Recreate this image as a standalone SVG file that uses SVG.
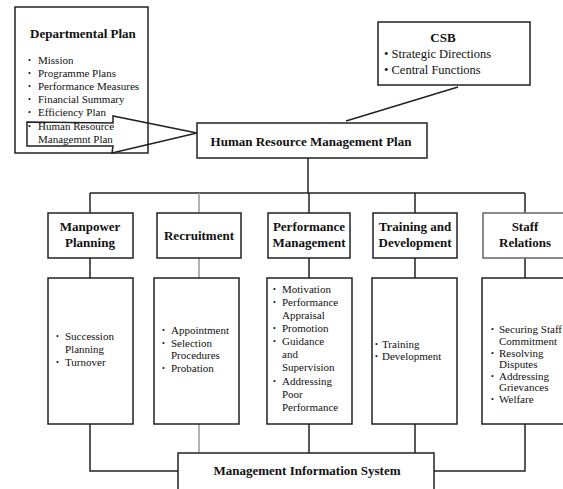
<svg xmlns="http://www.w3.org/2000/svg" width="563" height="489" viewBox="0 0 563 489">
<style>
.box{fill:#fff;stroke:#222;stroke-width:1.5}
.gbox{fill:#fff;stroke:#666;stroke-width:1.5}
.ln{fill:none;stroke:#222;stroke-width:1.5}
.gln{fill:none;stroke:#999;stroke-width:1.5}
text{font-family:"Liberation Serif","Times New Roman",serif;fill:#111}
.t{font-size:13px;font-weight:bold}
.tc{font-size:13px;font-weight:bold;text-anchor:middle}
.b{font-size:11px}
.c{font-size:12.5px}
.bl{font-size:8px}
</style>
<rect width="563" height="489" fill="#fff"/>
<g id="connectors">
<line class="ln" x1="458" y1="87" x2="346" y2="121"/>
<line class="ln" x1="308" y1="158" x2="308" y2="193"/>
<line class="ln" x1="90" y1="193" x2="525" y2="193"/>
<line class="ln" x1="90" y1="193" x2="90" y2="213"/>
<line class="gln" x1="199" y1="193" x2="199" y2="213"/>
<line class="ln" x1="309" y1="193" x2="309" y2="213"/>
<line class="ln" x1="415" y1="193" x2="415" y2="213"/>
<line class="ln" x1="525" y1="193" x2="525" y2="213"/>
<line class="ln" x1="90" y1="258" x2="90" y2="278"/>
<line class="gln" x1="199" y1="258" x2="199" y2="278"/>
<line class="ln" x1="309" y1="258" x2="309" y2="278"/>
<line class="ln" x1="415" y1="258" x2="415" y2="278"/>
<line class="ln" x1="525" y1="258" x2="525" y2="278"/>
<polyline class="ln" points="90,424 90,471 178,471"/>
<line class="gln" x1="199" y1="424" x2="199" y2="453"/>
<line class="ln" x1="309" y1="424" x2="309" y2="453"/>
<line class="ln" x1="415" y1="424" x2="415" y2="453"/>
<polyline class="ln" points="525,424 525,471 434,471"/>
</g>
<g id="departmental-plan">
<rect class="box" x="15" y="7" width="133" height="146"/>
<text class="t" x="30" y="38">Departmental Plan</text>
<g class="bl">
<text x="28" y="63">•</text>
<text x="28" y="76">•</text>
<text x="28" y="89">•</text>
<text x="28" y="102">•</text>
<text x="28" y="115">•</text>
<text x="28" y="129">•</text>
</g>
<g class="b">
<text x="38" y="64">Mission</text>
<text x="38" y="77">Programme Plans</text>
<text x="38" y="90">Performance Measures</text>
<text x="38" y="103">Financial Summary</text>
<text x="38" y="116">Efficiency Plan</text>
<text x="38" y="130">Human Resource</text>
<text x="38" y="143">Managemnt Plan</text>
</g>
</g>
<g id="arrow">
<polygon class="ln" points="27,122 113,123 113,116 197,133 112,153 113,146 27,146"/>
</g>
<g id="csb">
<rect class="box" x="378" y="22" width="152" height="63"/>
<text class="tc" x="443" y="42">CSB</text>
<text class="c" x="384" y="58">• Strategic Directions</text>
<text class="c" x="384" y="74">• Central Functions</text>
</g>
<g id="hrmp">
<rect class="box" x="197" y="123" width="230" height="35"/>
<text class="tc" x="311" y="146">Human Resource Management Plan</text>
</g>
<g id="manpower">
<rect class="box" x="48" y="213" width="85" height="45"/>
<text class="tc" x="90" y="231">Manpower</text>
<text class="tc" x="90" y="247">Planning</text>
</g>
<g id="recruitment">
<rect class="box" x="157" y="213" width="84" height="45"/>
<text class="tc" x="199" y="240">Recruitment</text>
</g>
<g id="performance">
<rect class="box" x="268" y="213" width="82" height="45"/>
<text class="tc" x="309" y="231">Performance</text>
<text class="tc" x="309" y="247">Management</text>
</g>
<g id="training">
<rect class="box" x="373" y="213" width="84" height="45"/>
<text class="tc" x="415" y="231">Training and</text>
<text class="tc" x="415" y="247">Development</text>
</g>
<g id="staff">
<rect class="gbox" x="483" y="213" width="84" height="45"/>
<text class="tc" x="525" y="231">Staff</text>
<text class="tc" x="525" y="247">Relations</text>
</g>
<g id="manpower-detail">
<rect class="box" x="48" y="278" width="85" height="146"/>
<g class="bl">
<text x="56" y="339">•</text>
<text x="56" y="365">•</text>
</g>
<g class="b">
<text x="65" y="340">Succession</text>
<text x="65" y="353">Planning</text>
<text x="65" y="366">Turnover</text>
</g>
</g>
<g id="recruitment-detail">
<rect class="box" x="154" y="278" width="85" height="146"/>
<g class="bl">
<text x="162" y="333">•</text>
<text x="162" y="346">•</text>
<text x="162" y="371">•</text>
</g>
<g class="b">
<text x="171" y="334">Appointment</text>
<text x="171" y="347">Selection</text>
<text x="171" y="359">Procedures</text>
<text x="171" y="372">Probation</text>
</g>
</g>
<g id="performance-detail">
<rect class="box" x="267" y="278" width="85" height="146"/>
<g class="bl">
<text x="273" y="292">•</text>
<text x="273" y="305">•</text>
<text x="273" y="331">•</text>
<text x="273" y="344">•</text>
<text x="273" y="384">•</text>
</g>
<g class="b">
<text x="282" y="293">Motivation</text>
<text x="282" y="306">Performance</text>
<text x="282" y="319">Appraisal</text>
<text x="282" y="332">Promotion</text>
<text x="282" y="345">Guidance</text>
<text x="282" y="358">and</text>
<text x="282" y="371">Supervision</text>
<text x="282" y="385">Addressing</text>
<text x="282" y="398">Poor</text>
<text x="282" y="411">Performance</text>
</g>
</g>
<g id="training-detail">
<rect class="box" x="372" y="278" width="85" height="146"/>
<g class="bl">
<text x="375" y="347">•</text>
<text x="375" y="359">•</text>
</g>
<g class="b">
<text x="382" y="348">Training</text>
<text x="382" y="360">Development</text>
</g>
</g>
<g id="staff-detail">
<rect class="box" x="482" y="278" width="85" height="146"/>
<g class="bl">
<text x="491" y="332">•</text>
<text x="491" y="356">•</text>
<text x="491" y="379">•</text>
<text x="491" y="402">•</text>
</g>
<g class="b">
<text x="499" y="333">Securing Staff</text>
<text x="499" y="345">Commitment</text>
<text x="499" y="357">Resolving</text>
<text x="499" y="368">Disputes</text>
<text x="499" y="380">Addressing</text>
<text x="499" y="391">Grievances</text>
<text x="499" y="403">Welfare</text>
</g>
</g>
<g id="mis">
<rect class="box" x="178" y="453" width="256" height="40"/>
<text class="tc" x="307" y="475">Management Information System</text>
</g>
</svg>
